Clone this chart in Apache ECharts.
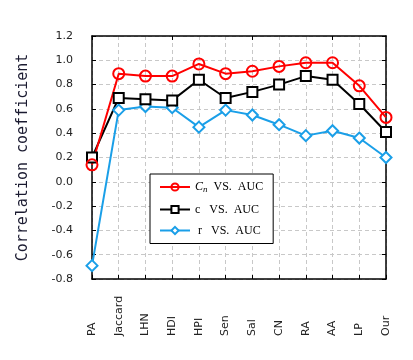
<!DOCTYPE html>
<html>
<head>
<meta charset="utf-8">
<script src="https://cdn.jsdelivr.net/npm/echarts@6/dist/echarts.min.js"></script>
<style>html,body{margin:0;padding:0;background:#fff;}#c{width:413px;height:360px;}</style>
</head>
<body>
<div id="c"></div>
<script>
var categories = ['PA','Jaccard','LHN','HDI','HPI','Sen','Sal','CN','RA','AA','LP','Our'];
var cnValues = [0.14, 0.89, 0.87, 0.87, 0.97, 0.89, 0.91, 0.95, 0.98, 0.98, 0.79, 0.53];
var cValues  = [0.20, 0.69, 0.68, 0.67, 0.84, 0.69, 0.74, 0.80, 0.87, 0.84, 0.64, 0.41];
var rValues  = [-0.69, 0.59, 0.62, 0.61, 0.45, 0.59, 0.55, 0.47, 0.38, 0.42, 0.36, 0.20];
var seriesNames = ['Cn VS. AUC', 'c VS. AUC', 'r VS. AUC'];
var yTicks = {min: -0.8, max: 1.2, interval: 0.2};
var yAxisTitle = 'Correlation coefficient';

var chart = echarts.init(document.getElementById('c'), null, {renderer: 'canvas'});
var axisLineStyle = {color: '#000', width: 1.5};
var legendRich = {
  it: {fontFamily: 'Liberation Serif', fontStyle: 'italic', fontSize: 12, color: '#000'},
  sub: {fontFamily: 'Liberation Serif', fontStyle: 'italic', fontSize: 9, color: '#000', verticalAlign: 'bottom', padding: [6, 0, 0, 0]},
  t: {fontFamily: 'Liberation Serif', fontSize: 12, color: '#000'}
};
chart.setOption({
  animation: false,
  backgroundColor: '#fff',
  grid: {left: 92, right: 27, top: 36, bottom: 81},
  legend: {
    orient: 'vertical',
    left: 150, top: 174,
    backgroundColor: '#fff',
    borderColor: '#000', borderWidth: 1,
    padding: [7, 10, 7, 9],
    itemWidth: 30, itemHeight: 9, itemGap: 9,
    data: seriesNames,
    formatter: function (name) {
      if (name === seriesNames[0]) return '{it|C}{sub|n}{t|  VS.  AUC}';
      if (name === seriesNames[1]) return '{t|c   VS.  AUC}';
      return '{t| r   VS.  AUC}';
    },
    textStyle: {rich: legendRich}
  },
  xAxis: [{
    type: 'category', data: categories, boundaryGap: false, position: 'bottom',
    axisLine: {onZero: false, lineStyle: axisLineStyle},
    axisTick: {inside: true, length: 4, lineStyle: {color: '#000'}},
    axisLabel: {rotate: 90, align: 'left', verticalAlign: 'middle', margin: 57, interval: 0,
      fontFamily: 'DejaVu Sans', fontSize: 11, color: '#222'},
    splitLine: {show: true, lineStyle: {color: '#c8c8c8', type: [4, 3]}}
  }, {
    type: 'category', data: categories, boundaryGap: false, position: 'top',
    axisLine: {onZero: false, lineStyle: axisLineStyle},
    axisTick: {inside: true, length: 4, lineStyle: {color: '#000'}},
    axisLabel: {show: false}, splitLine: {show: false}
  }],
  yAxis: [{
    type: 'value', min: yTicks.min, max: yTicks.max, interval: yTicks.interval, position: 'left',
    name: yAxisTitle, nameLocation: 'middle', nameGap: 61,
    nameTextStyle: {fontFamily: 'DejaVu Sans Mono', fontSize: 15, color: '#1a1a30'},
    axisLine: {show: true, onZero: false, lineStyle: axisLineStyle},
    axisTick: {show: true, inside: true, length: 4, lineStyle: {color: '#000'}},
    axisLabel: {margin: 19, fontFamily: 'DejaVu Sans', fontSize: 11, color: '#222',
      formatter: function (v) { return v.toFixed(1); }},
    splitLine: {show: true, lineStyle: {color: '#c8c8c8', type: [4, 3]}}
  }, {
    type: 'value', min: yTicks.min, max: yTicks.max, interval: yTicks.interval, position: 'right',
    axisLine: {show: true, onZero: false, lineStyle: axisLineStyle},
    axisTick: {show: true, inside: true, length: 4, lineStyle: {color: '#000'}},
    axisLabel: {show: false}, splitLine: {show: false}
  }],
  series: [{
    name: seriesNames[2], type: 'line', data: rValues,
    symbol: 'diamond', symbolSize: 11, showAllSymbol: true,
    lineStyle: {color: '#1a9fe8', width: 2},
    itemStyle: {color: '#fff', borderColor: '#1a9fe8', borderWidth: 2}
  }, {
    name: seriesNames[1], type: 'line', data: cValues,
    symbol: 'rect', symbolSize: 10, showAllSymbol: true,
    lineStyle: {color: '#000', width: 2},
    itemStyle: {color: '#fff', borderColor: '#000', borderWidth: 2}
  }, {
    name: seriesNames[0], type: 'line', data: cnValues,
    symbol: 'circle', symbolSize: 11, showAllSymbol: true,
    lineStyle: {color: '#ff0000', width: 2},
    itemStyle: {color: 'rgba(255,255,255,0)', borderColor: '#ff0000', borderWidth: 2}
  }]
});
</script>
</body>
</html>
